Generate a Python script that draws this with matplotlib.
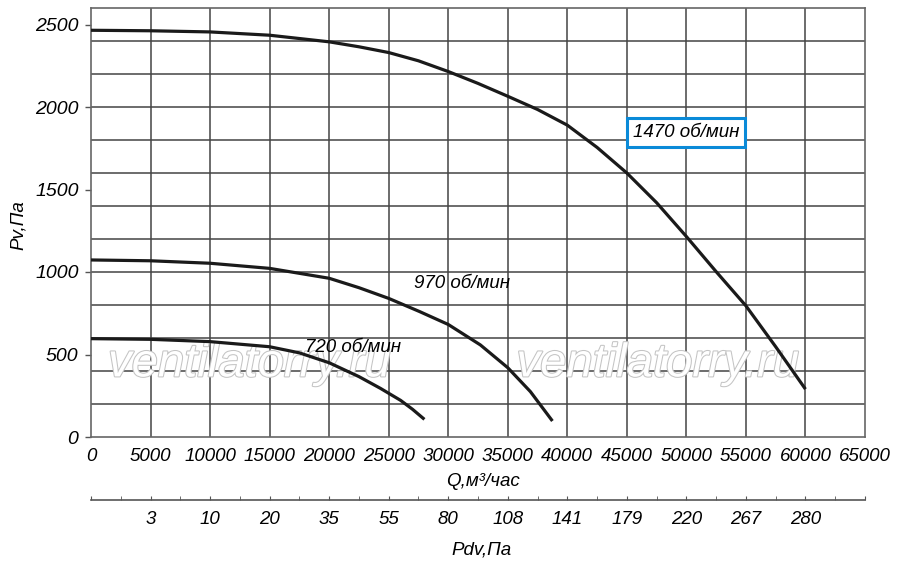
import matplotlib
matplotlib.use("Agg")
from matplotlib import pyplot as plt
from matplotlib import patheffects as pe
import numpy as np

plt.rcParams['font.family'] = ['Liberation Sans', 'DejaVu Sans']
plt.rcParams['font.style'] = 'italic'

# flow, m3/h and static pressure, Pa
q_1470 = [0, 5000, 10000, 15000, 17500, 20000, 22500, 25000, 27500, 30000,
          32500, 35000, 37500, 40000, 42500, 45000, 47500, 50000, 52500,
          55000, 57500, 60000]
p_1470 = [2465, 2462, 2455, 2435, 2415, 2395, 2365, 2330, 2280, 2215,
          2143, 2065, 1985, 1890, 1755, 1600, 1420, 1215, 1002,
          795, 547, 290]

q_970 = [0, 5000, 10000, 15000, 20000, 22500, 25000, 27600, 30000, 32700,
         35000, 36900, 38750]
p_970 = [1073, 1068, 1053, 1022, 962, 905, 840, 760, 682, 558,
         420, 275, 97]

q_720 = [0, 5000, 10000, 15000, 17500, 20000, 22500, 24300, 26000, 27000,
         28000]
p_720 = [596, 592, 578, 547, 510, 450, 366, 295, 222, 168, 107]

curve_labels = ["1470 об/мин", "970 об/мин", "720 об/мин"]

q_ticks = np.arange(0, 65001, 5000)
pdv_labels = ["", "3", "10", "20", "35", "55", "80", "108", "141", "179",
              "220", "267", "280", ""]
pv_ticks = [0, 500, 1000, 1500, 2000, 2500]

grid_c = '#444444'
fs = 13.5

fig = plt.figure(figsize=(9, 5.65), dpi=100)
ax = fig.add_axes([91 / 900, 1 - 437 / 565, 774 / 900, 429 / 565])
ax.set_xlim(0, 65000)
ax.set_ylim(0, 2600)

ax.set_xticks(q_ticks)
ax.set_xticklabels([str(v) for v in q_ticks], fontsize=fs)
ax.set_yticks(pv_ticks)
ax.set_yticklabels([str(v) for v in pv_ticks], fontsize=fs + 0.5)
ax.set_yticks(np.arange(0, 2601, 200), minor=True)
ax.tick_params(axis='x', length=0, pad=8)
ax.tick_params(axis='y', which='major', length=4, width=1, color='#555555',
               direction='out', pad=5)
ax.tick_params(axis='y', which='minor', length=0)
for v in q_ticks[1:-1]:
    ax.axvline(v, color=grid_c, lw=1.1, zorder=1)
for v in np.arange(200, 2600, 200):
    ax.axhline(v, color=grid_c, lw=1.1, zorder=1)
for s in ax.spines.values():
    s.set_color('#666666')
    s.set_linewidth(1.2)

for q, p in [(q_1470, p_1470), (q_970, p_970), (q_720, p_720)]:
    ax.plot(q, p, color='#1a1a1a', lw=2.3, solid_capstyle='butt',
            solid_joinstyle='round', zorder=4)

ax.text(49950, 1845, curve_labels[0], fontsize=fs, ha='center', va='center',
        zorder=5,
        bbox=dict(boxstyle='square,pad=0.3', fc='white', ec='#0a8ad8', lw=2.2))
ax.text(31200, 933, curve_labels[1], fontsize=fs, ha='center', va='center',
        zorder=5)
ax.text(22000, 540, curve_labels[2], fontsize=fs, ha='center', va='center',
        zorder=5)

for xc in (13300, 47600):
    ax.text(xc, 440, "ventilatorry.ru", fontsize=34, ha='center', va='center',
            color='white', style='italic', zorder=3,
            path_effects=[pe.withStroke(linewidth=1.5, foreground='#c4c4c4')])

fig.text(483 / 900, 1 - 482 / 565, "Q,м³/час", fontsize=fs, ha='center',
         va='center')
fig.text(18 / 900, 1 - 225 / 565, "Pv,Па", fontsize=fs, ha='center',
         va='center', rotation=90)
fig.text(481 / 900, 1 - 550 / 565, "Pdv,Па", fontsize=fs, ha='center',
         va='center')

# second scale: dynamic pressure
ax2 = fig.add_axes([91 / 900, 1 - 500 / 565, 774 / 900, 0.01])
ax2.patch.set_visible(False)
for side in ('top', 'left', 'right'):
    ax2.spines[side].set_visible(False)
ax2.spines['bottom'].set_color('#555555')
ax2.spines['bottom'].set_linewidth(1.2)
ax2.set_xlim(0, 65000)
ax2.set_yticks([])
ax2.set_xticks(q_ticks)
ax2.set_xticklabels(pdv_labels, fontsize=fs)
ax2.set_xticks(np.arange(0, 65001, 2500), minor=True)
ax2.tick_params(axis='x', which='both', direction='in', length=3,
                color='#555555', pad=8)

fig.savefig("out.png", dpi=100)
